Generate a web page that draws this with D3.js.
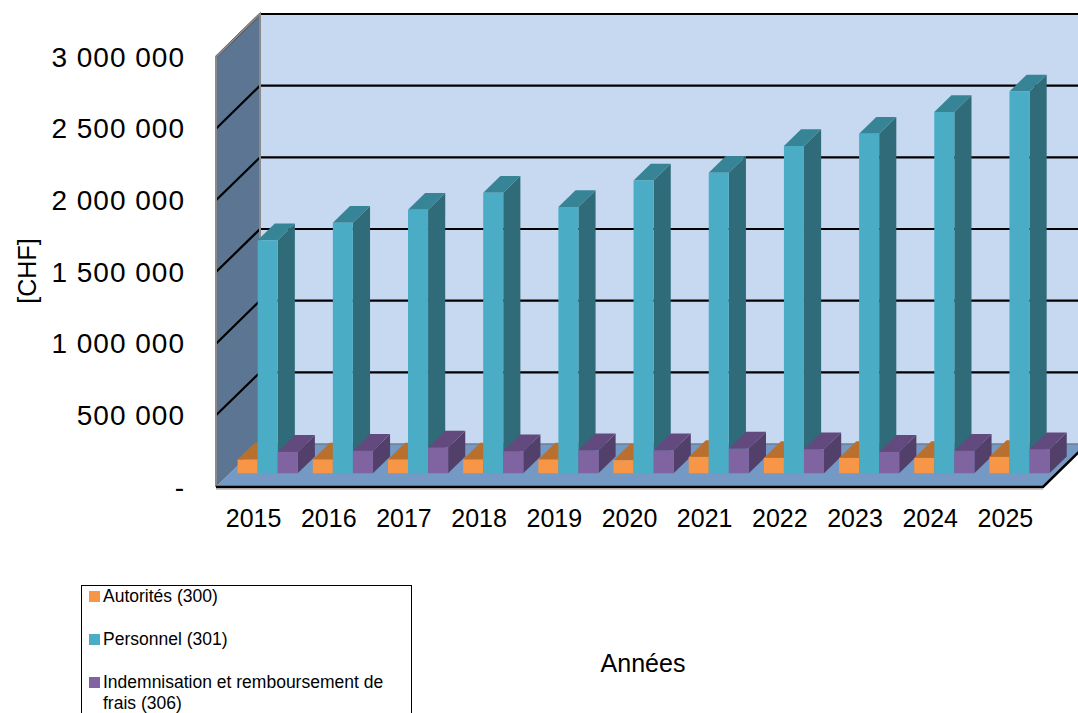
<html>
<head>
  <meta charset="UTF-8">
  <title>Charges par année</title>
  <script src="https://cdn.jsdelivr.net/npm/d3@7/dist/d3.min.js"></script>
  <style>
    body { margin: 0; background: #fff; }
    text { font-family: "Liberation Sans", Arial, sans-serif; fill: #000; }
  </style>
</head>
<body>
<div id="chart"></div>
<script>
// ---------------------------------------------------
// Données
// ---------------------------------------------------
var years = ["2015", "2016", "2017", "2018", "2019", "2020", "2021", "2022", "2023", "2024", "2025"];
var seriesNames = ["Autorités (300)", "Personnel (301)", "Indemnisation et remboursement de frais (306)"];
var autorites = [95000, 95000, 95000, 95000, 95000, 91000, 114000, 107000, 107000, 107000, 114000];
var personnel = [1625000, 1748000, 1839000, 1957000, 1857000, 2043000, 2097000, 2283000, 2369000, 2520000, 2664000];
var indemnisation = [149000, 156000, 179000, 153000, 160000, 160000, 172000, 167000, 149000, 156000, 167000];
var yTicks = [0, 500000, 1000000, 1500000, 2000000, 2500000, 3000000];

var seriesValues = [autorites, personnel, indemnisation];
var colors = [
  { front: "#F79646", top: "#B9702F", side: "#A0602A" },
  { front: "#4BACC6", top: "#378497", side: "#306B79" },
  { front: "#8064A2", top: "#634A7E", side: "#52406A" }
];

// ---------------------------------------------------
// Géométrie (projection oblique)
// ---------------------------------------------------
var W = 1078, H = 713;
var left = 216, right = 1043, base = 487;   // plan avant
var DX = 44, DY = 43;                       // profondeur du sol
var dz0 = 0.32, dz1 = 0.71;                 // profondeur des barres

var svg = d3.select("#chart").append("svg")
  .attr("width", W).attr("height", H);

var y = d3.scaleLinear().domain([0, 3000000]).range([0, 430]);
var x0 = d3.scaleBand().domain(years).range([left, right])
  .paddingInner(0.2).paddingOuter(0.1);
var x1 = d3.scaleBand().domain(d3.range(seriesNames.length)).range([0, x0.bandwidth()]);
var catScale = d3.scaleBand().domain(years).range([left, right]);

function P(xf, v, dz) {
  return [xf + dz * DX, base - y(v) - dz * DY];
}
function poly(pts) { return pts.map(function (p) { return p.join(","); }).join(" "); }

var yTop = y.domain()[1];

// mur du fond
svg.append("polygon")
  .attr("points", poly([P(left, 0, 1), P(left, yTop, 1), P(right + 60, yTop, 1), P(right + 60, 0, 1)]))
  .attr("fill", "#C6D9F0");

// mur gauche
svg.append("polygon")
  .attr("points", poly([P(left, 0, 0), P(left, yTop, 0), P(left, yTop, 1), P(left, 0, 1)]))
  .attr("fill", "#5B7592");

// sol
svg.append("polygon")
  .attr("points", poly([P(left, 0, 0), P(left, 0, 1), P(right, 0, 1), P(right, 0, 0)]))
  .attr("fill", "#7399C4");

// lignes de quadrillage
yTicks.forEach(function (t) {
  if (t === 0) return;
  var a = P(left, t, 0), b = P(left, t, 1), c = P(right + 60, t, 1);
  svg.append("polyline")
    .attr("points", poly([a, b, c]))
    .attr("fill", "none")
    .attr("stroke", "#000")
    .attr("stroke-width", 2.2);
});
// arête arrière du sol
svg.append("line")
  .attr("x1", P(left, 0, 1)[0]).attr("y1", P(left, 0, 1)[1])
  .attr("x2", right + 60).attr("y2", P(left, 0, 1)[1])
  .attr("stroke", "#6f7f8f").attr("stroke-width", 1.5);
// arêtes du mur gauche
svg.append("polyline")
  .attr("points", poly([P(left, 0, 0), P(left, yTop, 0), P(left, yTop, 1), P(left, 0, 1)]))
  .attr("fill", "none").attr("stroke", "#8a8a8a").attr("stroke-width", 2);

// ---------------------------------------------------
// Barres
// ---------------------------------------------------
var bars = svg.append("g");
years.forEach(function (yr, i) {
  seriesValues.forEach(function (vals, s) {
    var v = vals[i];
    var xa = x0(yr) + x1(s), xb = xa + x1.bandwidth();
    var c = colors[s];
    var g = bars.append("g");
    // côté
    g.append("polygon")
      .attr("points", poly([P(xb, 0, dz0), P(xb, v, dz0), P(xb, v, dz1), P(xb, 0, dz1)]))
      .attr("fill", c.side);
    // dessus
    g.append("polygon")
      .attr("points", poly([P(xa, v, dz0), P(xa, v, dz1), P(xb, v, dz1), P(xb, v, dz0)]))
      .attr("fill", c.top);
    // face
    g.append("polygon")
      .attr("points", poly([P(xa, 0, dz0), P(xa, v, dz0), P(xb, v, dz0), P(xb, 0, dz0)]))
      .attr("fill", c.front);
  });
});

// arête avant du sol
svg.append("polyline")
  .attr("points", poly([P(left, 0, 0), P(right, 0, 0), P(right, 0, 1)]))
  .attr("fill", "none").attr("stroke", "#000").attr("stroke-width", 2.5);
svg.append("line")
  .attr("x1", left).attr("y1", base + 2).attr("x2", right).attr("y2", base + 2)
  .attr("stroke", "#999").attr("stroke-width", 1);

// ---------------------------------------------------
// Axes et textes
// ---------------------------------------------------
var fmt = d3.formatLocale({ decimal: ".", thousands: " ", grouping: [3], currency: ["", ""] }).format(",");
svg.append("g").selectAll("text")
  .data(yTicks).enter().append("text")
  .attr("x", 185)
  .attr("y", function (d) { return base - y(d); })
  .attr("dy", "0.35em")
  .attr("text-anchor", "end")
  .style("font-size", "28px")
  .style("letter-spacing", "1px")
  .text(function (d) { return d === 0 ? "-" : fmt(d); });

svg.append("g").selectAll("text")
  .data(years).enter().append("text")
  .attr("x", function (d) { return catScale(d) + catScale.bandwidth() / 2; })
  .attr("y", 527)
  .attr("text-anchor", "middle")
  .style("font-size", "25px")
  .text(function (d) { return d; });

svg.append("text")
  .attr("transform", "translate(36,271) rotate(-90)")
  .attr("text-anchor", "middle")
  .style("font-size", "25px")
  .text("[CHF]");

svg.append("text")
  .attr("x", 643).attr("y", 672)
  .attr("text-anchor", "middle")
  .style("font-size", "25px")
  .text("Années");

// ---------------------------------------------------
// Légende
// ---------------------------------------------------
var legend = svg.append("g");
legend.append("rect")
  .attr("x", 81.5).attr("y", 585.5).attr("width", 330).attr("height", 140)
  .attr("fill", "#fff").attr("stroke", "#000").attr("stroke-width", 1);
var legendLines = [["Autorités (300)"], ["Personnel (301)"], ["Indemnisation et remboursement de", "frais (306)"]];
legendLines.forEach(function (lines, s) {
  var by = 602 + s * 43;
  legend.append("rect")
    .attr("x", 89).attr("y", by - 11).attr("width", 11).attr("height", 11)
    .attr("fill", colors[s].front);
  lines.forEach(function (t, k) {
    legend.append("text")
      .attr("x", 103).attr("y", by + k * 20.5)
      .style("font-size", "17.5px")
      .text(t);
  });
});
</script>
</body>
</html>
